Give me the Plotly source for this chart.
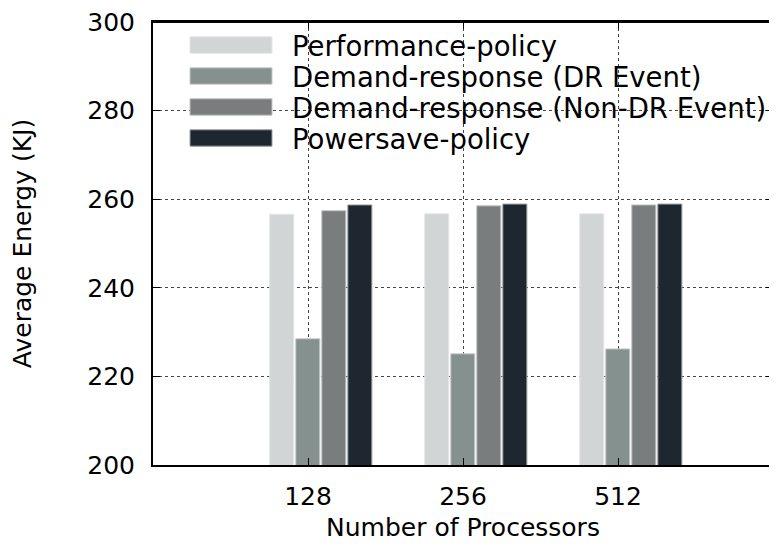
import plotly.graph_objects as go

# ---- data ----
categories = ["128", "256", "512"]
series_names = [
    "Performance-policy",
    "Demand-response (DR Event)",
    "Demand-response (Non-DR Event)",
    "Powersave-policy",
]
perf_policy = [256.6, 256.7, 256.7]
dr_event = [228.5, 225.1, 226.2]
non_dr_event = [257.4, 258.5, 258.7]
powersave_policy = [258.7, 258.9, 258.9]
y_ticks = [200, 220, 240, 260, 280, 300]

# ---- style ----
colors = ["#d1d5d5", "#84918f", "#7a7d7e", "#1e2630"]
edge_colors = ["#e4e6e6", "#c8cccc", "#c0c2c2", "#9a9ea2"]
FONT = "DejaVu Sans"
OFF = 8  # page body margin
W, H = 777 - OFF, 555 - OFF
# target plot area in page pixels: x 153..773, y 22..465
PL, PR, PT, PB = 153, 773, 22, 465
L, T = PL - OFF, PT - OFF
R = W - (PR - OFF)
B = H - (PB - OFF)
PW, PH = PR - PL, PB - PT
X_RANGE = [-1, 3]
Y_RANGE = [200, 300]

bar_w = 0.155
step = 0.168
first_off = -0.247

fig = go.Figure()
all_vals = [perf_policy, dr_event, non_dr_event, powersave_policy]
for k, (name, vals) in enumerate(zip(series_names, all_vals)):
    fig.add_trace(go.Bar(
        x=categories, y=vals, name=name,
        width=bar_w, offset=first_off + k * step,
        marker=dict(color=colors[k], line=dict(color=edge_colors[k], width=1)),
        showlegend=False,
    ))

def px_x(p):  # page px -> paper fraction of plot area
    return (p - PL) / PW

def px_y(p):
    return (PB - p) / PH

def ax_x(p):
    return X_RANGE[0] + (X_RANGE[1] - X_RANGE[0]) * px_x(p)

def ax_y(p):
    return Y_RANGE[0] + (Y_RANGE[1] - Y_RANGE[0]) * px_y(p)

shapes = [
    # white legend background: above gridlines, below traces
    dict(type="rect", xref="x", yref="y", layer="below",
         x0=ax_x(172), x1=ax_x(PR - 2), y0=ax_y(152), y1=ax_y(PT + 2),
         fillcolor="white", line=dict(width=0)),
    # top border of the frame
    dict(type="line", xref="paper", yref="paper", layer="above",
         x0=0, x1=1, y0=1, y1=1, line=dict(color="black", width=2)),
]
annotations = []
row_centers = [45, 76, 107, 138]
for k, name in enumerate(series_names):
    cy = row_centers[k]
    shapes.append(dict(type="rect", xref="paper", yref="paper", layer="above",
                       x0=px_x(190), x1=px_x(272), y0=px_y(cy + 8.2), y1=px_y(cy - 8.2),
                       fillcolor=colors[k], line=dict(color=edge_colors[k], width=1)))
    annotations.append(dict(xref="paper", yref="paper", x=px_x(290), y=px_y(cy + 1),
                            text=name, showarrow=False, xanchor="left", yanchor="middle",
                            font=dict(family=FONT, size=27.5, color="black")))

fig.update_layout(
    width=W, height=H,
    margin=dict(l=L, r=R, t=T, b=B, pad=0),
    paper_bgcolor="white", plot_bgcolor="white",
    barmode="overlay",
    font=dict(family=FONT, size=25, color="black"),
    shapes=shapes, annotations=annotations,
    showlegend=False,
)
fig.update_xaxes(
    type="category", categoryorder="array", categoryarray=categories,
    range=X_RANGE,
    showline=True, linecolor="black", linewidth=2, mirror="ticks",
    ticks="inside", ticklen=7, tickcolor="black", tickwidth=1,
    showgrid=True, gridcolor="#444444", griddash="dot", gridwidth=1,
    tickfont=dict(family=FONT, size=25), ticklabelstandoff=8,
    ticklabeloverflow="allow",
    title=dict(text="Number of Processors", font=dict(family=FONT, size=25), standoff=8),
    zeroline=False, automargin=False,
)
fig.update_yaxes(
    range=Y_RANGE, tickvals=y_ticks,
    showline=True, linecolor="black", linewidth=2, mirror="ticks",
    ticks="inside", ticklen=7, tickcolor="black", tickwidth=1,
    showgrid=True, gridcolor="#444444", griddash="dot", gridwidth=1,
    tickfont=dict(family=FONT, size=25), ticklabelstandoff=11,
    ticklabeloverflow="allow",
    title=dict(text="Average Energy (KJ)", font=dict(family=FONT, size=25), standoff=49),
    zeroline=False, automargin=False,
)

fig.write_html("out.html")
